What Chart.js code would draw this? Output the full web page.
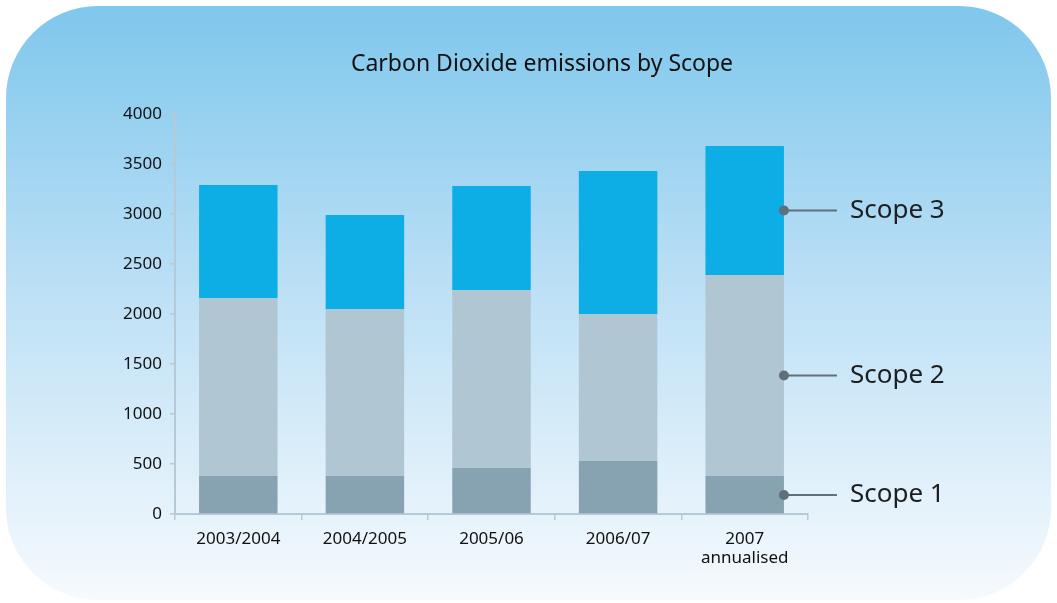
<!DOCTYPE html>
<html>
<head>
<meta charset="utf-8">
<script src="https://cdn.jsdelivr.net/npm/chart.js@4"></script>
<style>
  html, body { margin: 0; padding: 0; background: #ffffff; }
  #wrap { width: 1057px; height: 603px; position: relative; }
</style>
</head>
<body>
<div id="wrap"><canvas id="co2"></canvas></div>
<script>
const periods = ['2003/2004', '2004/2005', '2005/06', '2006/07', ['2007', 'annualised']];
const scope1 = [380, 380, 460, 530, 380];
const scope2 = [1780, 1670, 1780, 1470, 2010];
const scope3 = [1130, 940, 1040, 1430, 1290];
const seriesNames = ['Scope 1', 'Scope 2', 'Scope 3'];
const yTicks = [0, 500, 1000, 1500, 2000, 2500, 3000, 3500, 4000];
const chartTitle = 'Carbon Dioxide emissions by Scope';

const FONT = "'Noto Sans', sans-serif";

// rounded gradient panel behind everything, plus the title
const panelPlugin = {
  id: 'panel',
  beforeDraw(chart) {
    const ctx = chart.ctx;
    const x = 6, y = 6, w = 1045, h = 594, r = 92;
    const g = ctx.createLinearGradient(0, y, 0, y + h);
    g.addColorStop(0, '#7fc7ec');
    g.addColorStop(0.5, '#bfe1f6');
    g.addColorStop(1, '#f6fafd');
    ctx.save();
    ctx.beginPath();
    ctx.roundRect(x, y, w, h, r);
    ctx.fillStyle = g;
    ctx.fill();
    ctx.fillStyle = '#111111';
    ctx.font = '23px ' + FONT;
    ctx.textAlign = 'center';
    ctx.textBaseline = 'middle';
    ctx.fillText(chartTitle, 542, 64);
    ctx.restore();
  }
};

// callout labels next to the last bar
const calloutPlugin = {
  id: 'callouts',
  afterDatasetsDraw(chart) {
    const ctx = chart.ctx;
    const yScale = chart.scales.y;
    const last = periods.length - 1;
    let base = 0;
    chart.data.datasets.forEach((ds, i) => {
      const bar = chart.getDatasetMeta(i).data[last];
      const v = ds.data[last];
      const yMid = yScale.getPixelForValue(base + v / 2);
      base += v;
      const xr = bar.x + bar.width / 2;
      ctx.save();
      ctx.strokeStyle = '#5f707b';
      ctx.lineWidth = 2;
      ctx.beginPath();
      ctx.moveTo(xr, yMid);
      ctx.lineTo(xr + 53, yMid);
      ctx.stroke();
      ctx.fillStyle = '#5f707b';
      ctx.beginPath();
      ctx.arc(xr, yMid, 5, 0, Math.PI * 2);
      ctx.fill();
      ctx.fillStyle = '#1e1e1e';
      ctx.font = '26px ' + FONT;
      ctx.textBaseline = 'middle';
      ctx.fillText(seriesNames[i], xr + 66, yMid);
      ctx.restore();
    });
  }
};

new Chart(document.getElementById('co2'), {
  type: 'bar',
  data: {
    labels: periods,
    datasets: [
      { label: seriesNames[0], data: scope1, backgroundColor: '#87a3b1' },
      { label: seriesNames[1], data: scope2, backgroundColor: '#b0c6d3' },
      { label: seriesNames[2], data: scope3, backgroundColor: '#0daee5' },
    ],
  },
  options: {
    responsive: true,
    maintainAspectRatio: false,
    animation: false,
    categoryPercentage: 0.62,
    barPercentage: 1,
    layout: { padding: { left: 100, right: 249, top: 114, bottom: 0 } },
    scales: {
      x: {
        stacked: true,
        afterFit(scale) { scale.height = 89; },
        border: { color: '#b6c9d6', width: 2 },
        grid: { offset: true, drawOnChartArea: false, tickLength: 6, color: '#b6c9d6', lineWidth: 1.5 },
        ticks: { color: '#111111', font: { family: FONT, size: 17, lineHeight: 1.15 }, padding: 9, maxRotation: 0 },
      },
      y: {
        stacked: true,
        min: 0,
        max: 4000,
        afterFit(scale) { scale.width = 75; },
        afterBuildTicks(scale) { scale.ticks = yTicks.map(v => ({ value: v })); },
        border: { color: '#b6c9d6', width: 2 },
        grid: { drawOnChartArea: false, tickLength: 5, color: '#b6c9d6', lineWidth: 1.5 },
        ticks: { color: '#111111', font: { family: FONT, size: 17 }, padding: 8, callback: v => String(v) },
      },
    },
    plugins: {
      legend: { display: false },
      tooltip: { enabled: false },
      title: { display: false },
    },
  },
  plugins: [panelPlugin, calloutPlugin],
});
</script>
</body>
</html>
